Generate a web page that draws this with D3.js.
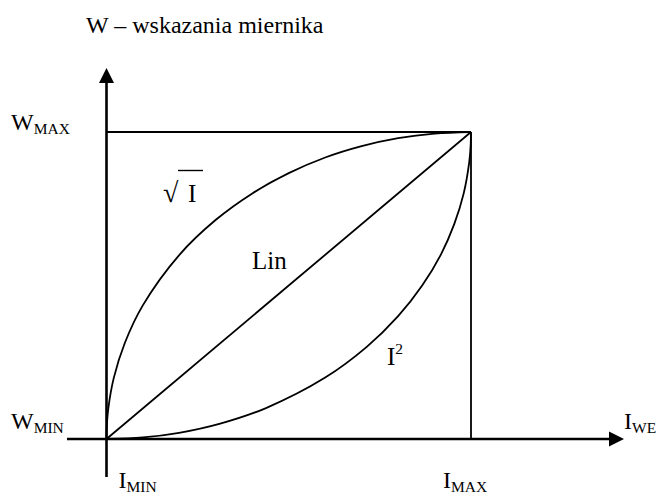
<!DOCTYPE html>
<html>
    <head>
        <meta charset="utf-8">
        <title>Charakterystyki miernika - D3</title>
        <script src="https://d3js.org/d3.v7.min.js"></script>
        <style>
body {
    margin: 0;
    background: #fff;
}
svg {
    display: block;
}
        </style>
    </head>

    <body>
        <svg id="chart"></svg>

    <script>
        // prad wejsciowy I (0 = I_MIN, 100 = I_MAX), wskazanie W (0 = W_MIN, 100 = W_MAX)
        let lin_i = [0, 100];
        let lin_w = [0, 100];

        let sqrt_i = [0, 0.1, 0.5, 2, 5, 10, 20, 30, 40, 50, 60, 70, 80, 90, 100];
        let sqrt_w = [0, 4.5, 10, 19.9, 31.2, 43.6, 60, 71.4, 80, 86.6, 91.7, 95.4, 98, 99.5, 100];

        let sq_i = [0, 10, 19.9, 31.2, 43.6, 60, 71.4, 80, 86.6, 91.7, 95.4, 98, 99.5, 99.9, 100];
        let sq_w = [0, 0.5, 2, 5, 10, 20, 30, 40, 50, 60, 70, 80, 90, 95.5, 100];

        let x_labels = [{ value: 0, main: 'I', sub: 'MIN' }, { value: 100, main: 'I', sub: 'MAX' }];
        let y_labels = [{ value: 0, main: 'W', sub: 'MIN' }, { value: 100, main: 'W', sub: 'MAX' }];

        let render_chart = () => {
            let width = 659;
            let height = 495;

            let scale_x = d3.scaleLinear().domain([0, 100]).range([106.5, 471]);
            let scale_y = d3.scaleLinear().domain([0, 100]).range([439, 132]);

            let svg = d3.select('#chart')
                .attr('width', width)
                .attr('height', height);

            let x0 = scale_x(0);
            let y0 = scale_y(0);

            // ramka I_MAX / W_MAX
            let frame = svg.append('g')
                .attr('fill', 'none')
                .attr('stroke', '#000')
                .attr('stroke-width', 1.8);
            frame.append('line')
                .attr('x1', x0).attr('y1', scale_y(100))
                .attr('x2', scale_x(100)).attr('y2', scale_y(100));
            frame.append('line')
                .attr('x1', scale_x(100)).attr('y1', scale_y(100))
                .attr('x2', scale_x(100)).attr('y2', y0);

            // krzywe
            let line = d3.line()
                .x(d => scale_x(d[0]))
                .y(d => scale_y(d[1]))
                .curve(d3.curveCatmullRom.alpha(0.5));

            let series = [
                d3.zip(lin_i, lin_w),
                d3.zip(sqrt_i, sqrt_w),
                d3.zip(sq_i, sq_w)
            ];
            svg.append('g')
                .attr('fill', 'none')
                .attr('stroke', '#000')
                .attr('stroke-width', 1.8)
                .selectAll('path')
                .data(series)
                .join('path')
                .attr('d', line);

            // osie
            let axes = svg.append('g')
                .attr('stroke', '#000')
                .attr('stroke-width', 2.6);
            axes.append('line')
                .attr('x1', 67).attr('y1', y0)
                .attr('x2', 612).attr('y2', y0);
            axes.append('line')
                .attr('x1', x0).attr('y1', 477)
                .attr('x2', x0).attr('y2', 80);
            svg.append('path')
                .attr('d', `M624,${y0}L609,${y0 - 7.5}L609,${y0 + 7.5}Z`)
                .attr('fill', '#000');
            svg.append('path')
                .attr('d', `M${x0},68L${x0 - 7.5},83L${x0 + 7.5},83Z`)
                .attr('fill', '#000');

            let g = svg.append('g');

            let text = (x, y, size) => g.append('text')
                .attr('x', x)
                .attr('y', y)
                .style('font-family', '"Liberation Serif"', 'important')
                .style('font-size', size + 'px')
                .style('fill', '#000');

            let label = (main, sub, x, y) => {
                let t = text(x, y, 24);
                t.append('tspan').text(main);
                t.append('tspan')
                    .style('font-size', '15.5px')
                    .attr('dy', 4)
                    .text(sub);
                return t;
            };

            y_labels.forEach(d => label(d.main, d.sub, 11, scale_y(d.value) - (d.value == 0 ? 10 : 2)));
            x_labels.forEach(d => label(d.main, d.sub, scale_x(d.value) + (d.value == 0 ? 12 : -28), 488));
            label('I', 'WE', 624, 429);

            text(86, 33, 24).text('W \u2013 wskazania miernika');
            text(252, 269, 25).text('Lin');

            // etykieta sqrt(I)
            text(163, 202, 28).text('\u221A');
            text(188, 202, 25).text('I');
            g.append('line')
                .attr('x1', 178).attr('y1', 170.5)
                .attr('x2', 203).attr('y2', 170.5)
                .attr('stroke', '#000')
                .attr('stroke-width', 1.4);

            let sq = text(387, 365, 25);
            sq.append('tspan').text('I');
            sq.append('tspan')
                .style('font-size', '15.5px')
                .attr('dy', -11)
                .text('2');
        };

        render_chart();
    </script>
    </body>
</html>
